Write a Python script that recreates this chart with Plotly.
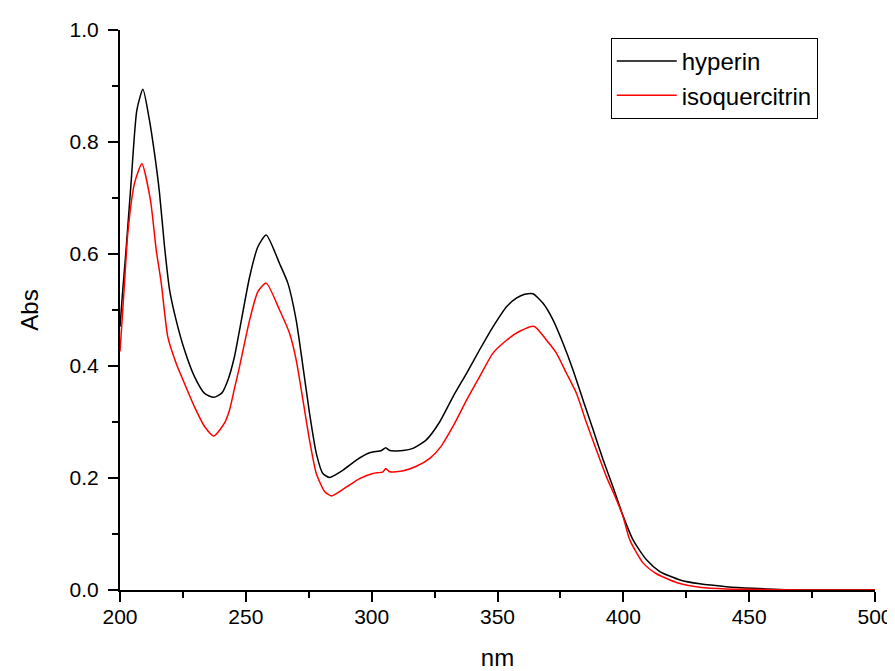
import plotly.graph_objects as go

# hyperin (black)
hyp_nm = [200, 201.1, 202.4, 204.4, 206.7, 209.1, 211.7, 213.7, 215.7, 217.7, 219.7,
          222.3, 225.6, 229.6, 233.6, 237.3, 240.5, 242.9, 245.5, 247.5, 251.5, 254.8,
          258.1, 263.4, 266.7, 270, 272.7, 275.3, 278, 280.6, 283.3, 288.6, 293.9,
          299.2, 303.9, 305.6, 307.2, 312.5, 316.4, 321.7, 327, 332.3, 337.7, 342.9,
          348.2, 353.6, 357.5, 360.8, 364.1, 368.1, 372.1, 376, 380, 384, 388, 392,
          395.9, 400, 403.9, 409.2, 414.5, 422.5, 430.4, 441, 451.6, 462.2, 470, 500]
hyp_abs = [0.47, 0.536, 0.607, 0.727, 0.857, 0.894, 0.839, 0.780, 0.709, 0.613, 0.536,
           0.482, 0.429, 0.381, 0.351, 0.344, 0.352, 0.375, 0.417, 0.464, 0.559, 0.613,
           0.634, 0.583, 0.548, 0.482, 0.399, 0.316, 0.244, 0.208, 0.201, 0.214, 0.232,
           0.245, 0.249, 0.254, 0.249, 0.249, 0.253, 0.268, 0.300, 0.345, 0.387, 0.429,
           0.470, 0.506, 0.521, 0.528, 0.529, 0.512, 0.482, 0.441, 0.393, 0.339, 0.286, 0.232,
           0.184, 0.131, 0.089, 0.054, 0.033, 0.018, 0.011, 0.006, 0.003, 0.001, 0.0, 0.0]

# isoquercitrin (red)
iso_nm = [200, 201.8, 203.1, 205.8, 208.7, 212.1, 214.4, 216.4, 219, 222.3, 225.6,
          229.6, 233.6, 237.3, 241.5, 243.5, 245.5, 247.5, 251.5, 254.8, 258.1, 263.4,
          267.4, 270, 272.7, 275.3, 278, 281.3, 284, 290, 295.2, 300.5, 304.5, 305.6,
          307.2, 312.5, 317.8, 323.1, 327.5, 332.3, 337.7, 342.9, 348.2, 353.6, 358.8,
          364.5, 369.5, 373.4, 377.4, 381.4, 385.4, 389.3, 393.3, 397.3, 399.9, 402.6,
          407.9, 413.2, 421.4, 430.4, 441, 455, 470, 500]
iso_abs = [0.426, 0.548, 0.637, 0.727, 0.761, 0.696, 0.607, 0.548, 0.452, 0.405, 0.369,
           0.327, 0.292, 0.275, 0.298, 0.321, 0.360, 0.399, 0.482, 0.533, 0.548, 0.500,
           0.458, 0.411, 0.339, 0.268, 0.208, 0.176, 0.168, 0.184, 0.199, 0.208, 0.211, 0.217,
           0.211, 0.213, 0.221, 0.235, 0.256, 0.292, 0.339, 0.381, 0.423, 0.446, 0.462,
           0.471, 0.446, 0.423, 0.387, 0.351, 0.298, 0.250, 0.202, 0.161, 0.131, 0.089,
           0.048, 0.029, 0.013, 0.005, 0.002, 0.001, 0.0, 0.0]

FONT = "Liberation Sans, Arial, sans-serif"

fig = go.Figure()
fig.add_trace(go.Scatter(x=hyp_nm, y=hyp_abs, mode="lines", name="hyperin",
                         line=dict(color="black", width=1.5, shape="spline", smoothing=0.6)))
fig.add_trace(go.Scatter(x=iso_nm, y=iso_abs, mode="lines", name="isoquercitrin",
                         line=dict(color="red", width=1.5, shape="spline", smoothing=0.6)))

axis_common = dict(showline=True, linecolor="black", linewidth=2, ticks="outside",
                   ticklen=10, tickwidth=2, tickcolor="black", showgrid=False,
                   zeroline=False, mirror=False, automargin=False,
                   tickfont=dict(family=FONT, size=21, color="black"))

# page body has an 8px margin, so the figure is sized/offset to fit the 895x671 window
fig.update_layout(
    width=887, height=663,
    margin=dict(l=112, r=20, t=22, b=81, autoexpand=False),
    paper_bgcolor="white", plot_bgcolor="white",
    font=dict(family=FONT, color="black"),
    xaxis=dict(range=[200, 500], dtick=50, tick0=200, ticklabelstandoff=-3,
               minor=dict(dtick=25, ticks="outside", ticklen=6, tickwidth=2, tickcolor="black"),
               title=dict(text="nm", font=dict(family=FONT, size=24), standoff=22),
               **axis_common),
    yaxis=dict(range=[0, 1], dtick=0.2, tick0=0, tickformat=".1f", ticklabelstandoff=5,
               minor=dict(dtick=0.1, ticks="outside", ticklen=6, tickwidth=2, tickcolor="black"),
               title=dict(text="Abs", font=dict(family=FONT, size=24), standoff=24),
               **axis_common),
    legend=dict(x=0.650, y=0.986, xanchor="left", yanchor="top",
                bgcolor="white", bordercolor="black", borderwidth=1,
                font=dict(family=FONT, size=24, color="black"),
                itemwidth=60, tracegroupgap=0),
    showlegend=True,
)

fig.write_html("out.html")
